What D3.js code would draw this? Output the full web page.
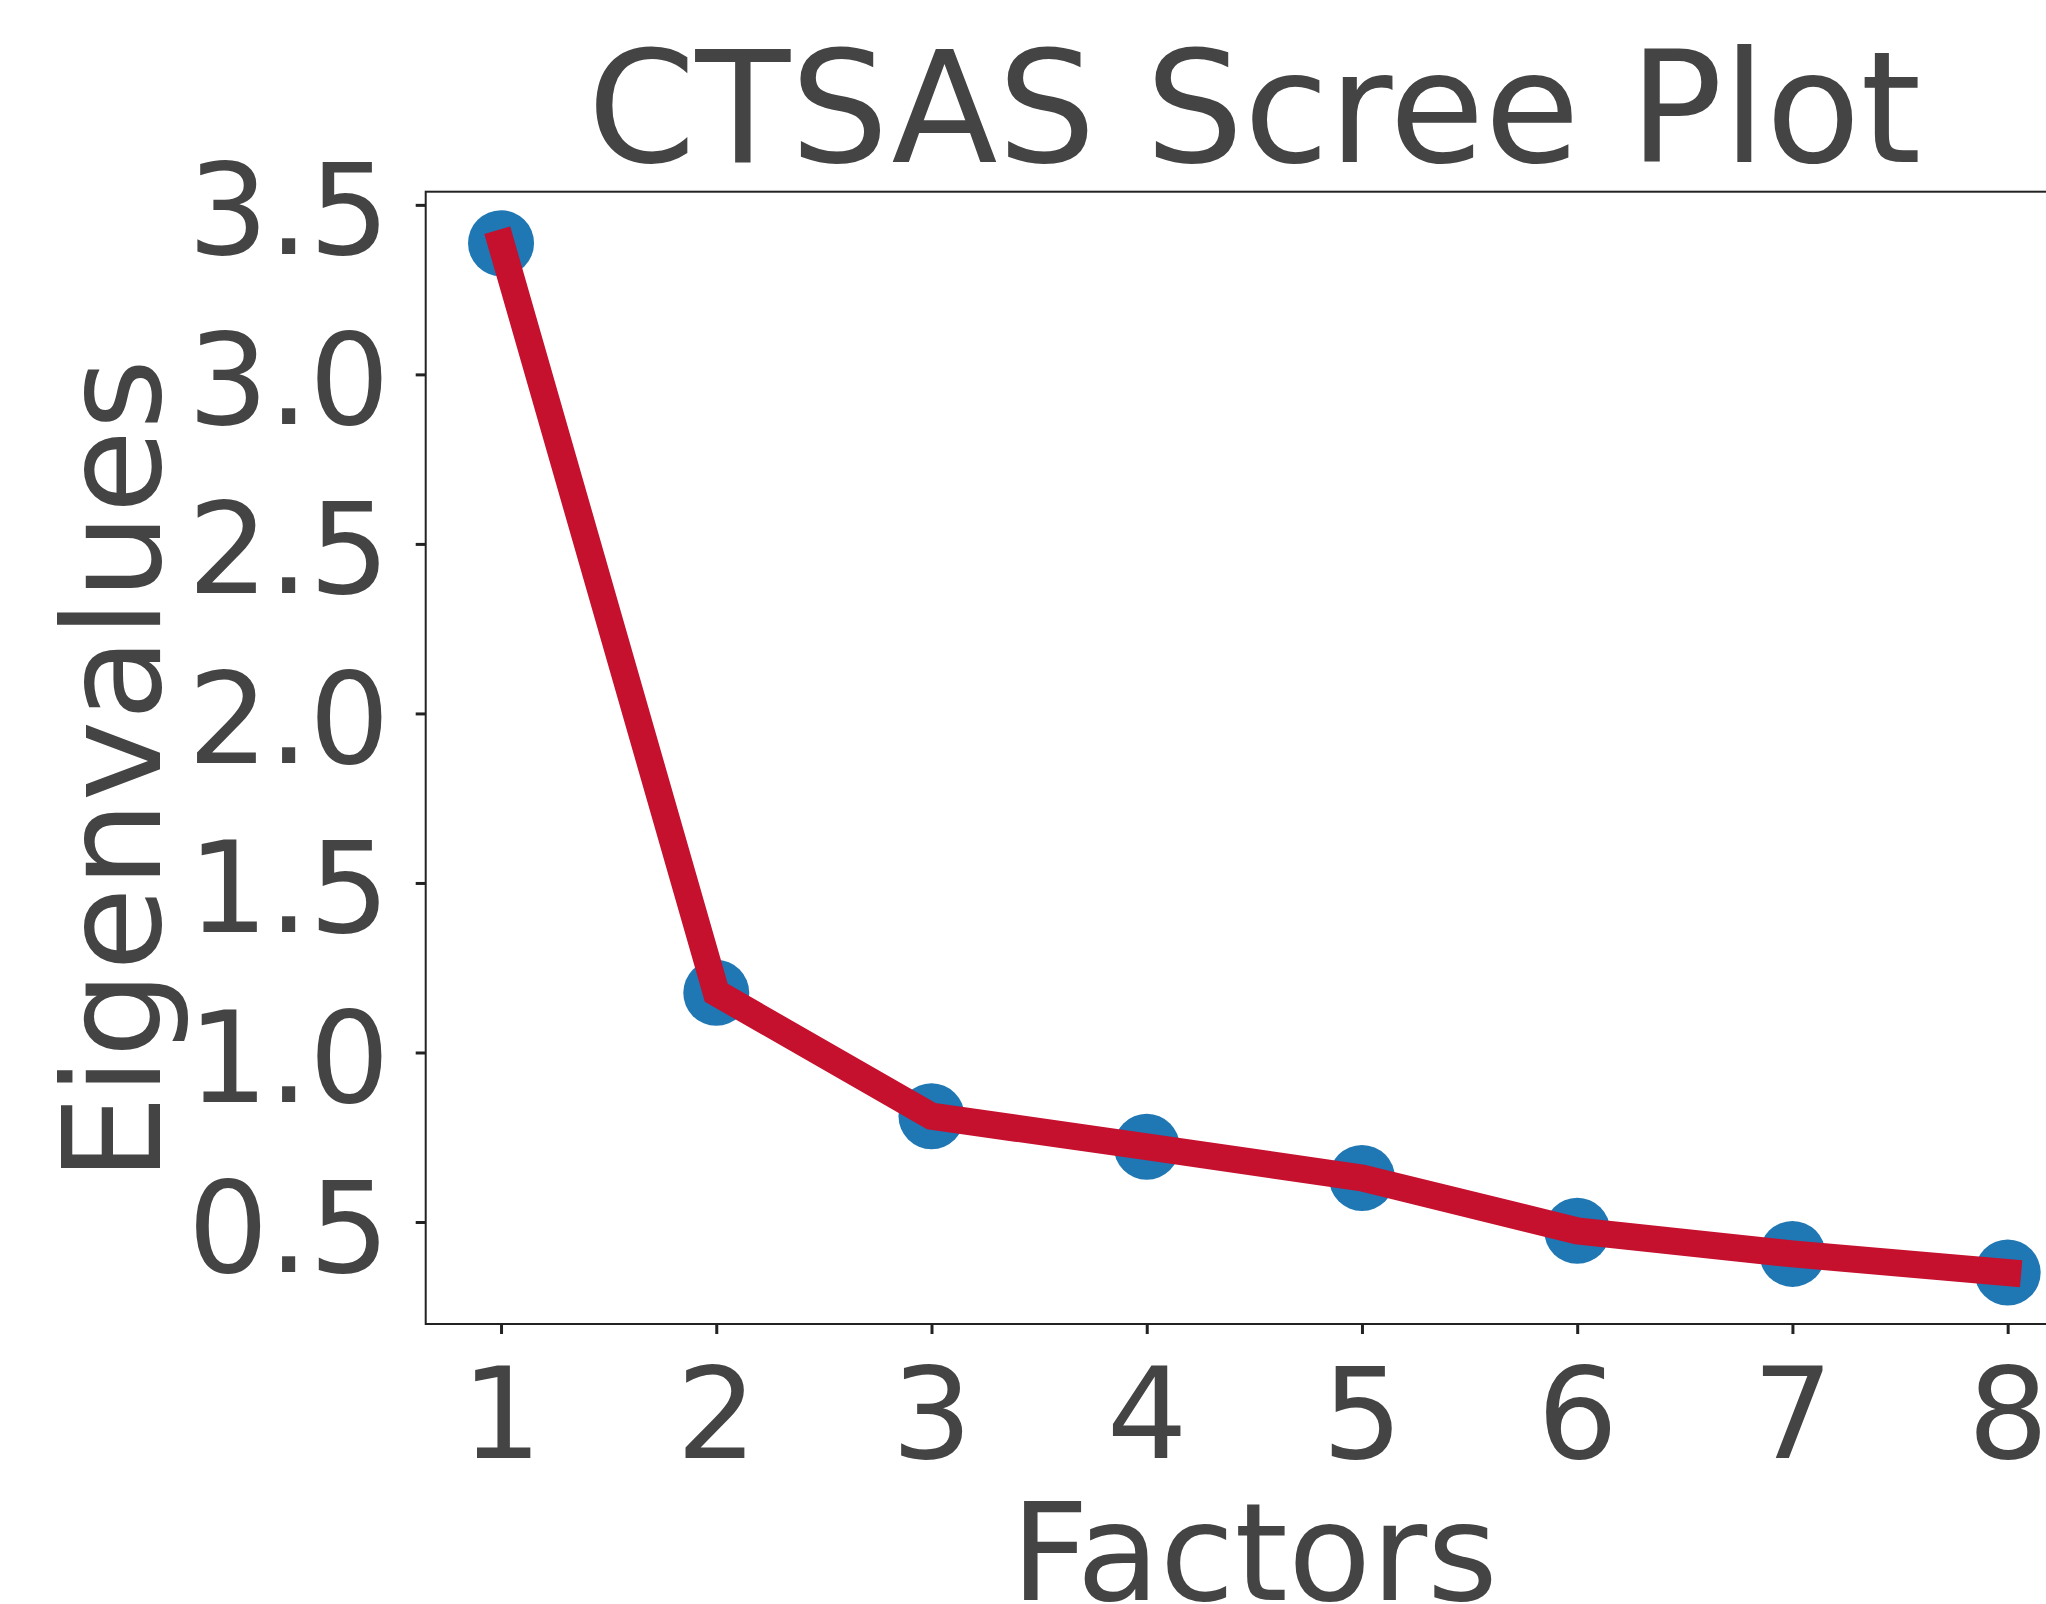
<!DOCTYPE html>
<html>
<head>
<meta charset="utf-8">
<script src="https://cdn.jsdelivr.net/npm/d3@7"></script>
<style>
  html, body { margin: 0; padding: 0; background: #fff; overflow: hidden; }
  svg { display: block; }
  text { font-family: "DejaVu Sans", sans-serif; fill: #444444; }
</style>
</head>
<body>
<svg id="chart" width="2046" height="1604"></svg>
<script>
// ---- data ----
const factors = [1, 2, 3, 4, 5, 6, 7, 8];
const eigenvalues = [3.387, 1.176, 0.812, 0.722, 0.630, 0.474, 0.406, 0.351];
const yTicks = [0.5, 1.0, 1.5, 2.0, 2.5, 3.0, 3.5];
const xTicks = [1, 2, 3, 4, 5, 6, 7, 8];
const titleText = "CTSAS Scree Plot";
const xLabelText = "Factors";
const yLabelText = "Eigenvalues";

// ---- layout ----
const plotL = 425.7, plotR = 2083, plotT = 191.7, plotB = 1324;

const svg = d3.select("#chart");

const xMin = d3.min(factors), xMax = d3.max(factors);
const xPad = (xMax - xMin) * 0.05;
const x = d3.scaleLinear().domain([xMin - xPad, xMax + xPad]).range([plotL, plotR]);

const yMin = d3.min(eigenvalues), yMax = d3.max(eigenvalues);
const yPad = (yMax - yMin) * 0.05;
const y = d3.scaleLinear().domain([yMin - yPad, yMax + yPad]).range([plotB, plotT]);

// frame
svg.append("rect")
  .attr("x", plotL).attr("y", plotT)
  .attr("width", plotR - plotL).attr("height", plotB - plotT)
  .attr("fill", "none").attr("stroke", "#222").attr("stroke-width", 2);

// x axis
const xAxis = d3.axisBottom(x).tickValues(xTicks).tickSize(10).tickPadding(0).tickFormat(d3.format("d"));
const gx = svg.append("g").attr("transform", `translate(0,${plotB})`).call(xAxis);
gx.select(".domain").remove();
gx.selectAll(".tick line").attr("stroke", "#222").attr("stroke-width", 3);
gx.selectAll(".tick text")
  .attr("y", 134).attr("dy", null)
  .style("font-family", '"DejaVu Sans", sans-serif')
  .style("font-size", "127px").attr("fill", "#444444");

// y axis
const yAxis = d3.axisLeft(y).tickValues(yTicks).tickSize(10).tickPadding(0).tickFormat(d3.format(".1f"));
const gy = svg.append("g").attr("transform", `translate(${plotL},0)`).call(yAxis);
gy.select(".domain").remove();
gy.selectAll(".tick line").attr("stroke", "#222").attr("stroke-width", 3);
gy.selectAll(".tick text")
  .attr("x", -36).attr("dy", null).attr("y", 49)
  .style("font-family", '"DejaVu Sans", sans-serif')
  .style("font-size", "127px").attr("fill", "#444444");

// points (below line)
svg.append("g").selectAll("circle")
  .data(factors)
  .join("circle")
  .attr("cx", (d) => x(d))
  .attr("cy", (d, i) => y(eigenvalues[i]))
  .attr("r", 33)
  .attr("fill", "#1f77b4");

// line
const line = d3.line()
  .x((d) => x(d))
  .y((d, i) => y(eigenvalues[i]));
svg.append("path")
  .datum(factors)
  .attr("d", line)
  .attr("fill", "none")
  .attr("stroke", "#c5102e")
  .attr("stroke-width", 27)
  .attr("stroke-linecap", "square")
  .attr("stroke-linejoin", "miter");

// title
svg.append("text")
  .attr("x", (plotL + plotR) / 2).attr("y", 162)
  .attr("text-anchor", "middle")
  .style("font-size", "155px")
  .text(titleText);

// x label
svg.append("text")
  .attr("x", (plotL + plotR) / 2).attr("y", 1600)
  .attr("text-anchor", "middle")
  .style("font-size", "136px")
  .text(xLabelText);

// y label
svg.append("text")
  .attr("transform", `translate(160,770) rotate(-90)`)
  .attr("text-anchor", "middle")
  .style("font-size", "136px")
  .text(yLabelText);
</script>
</body>
</html>
